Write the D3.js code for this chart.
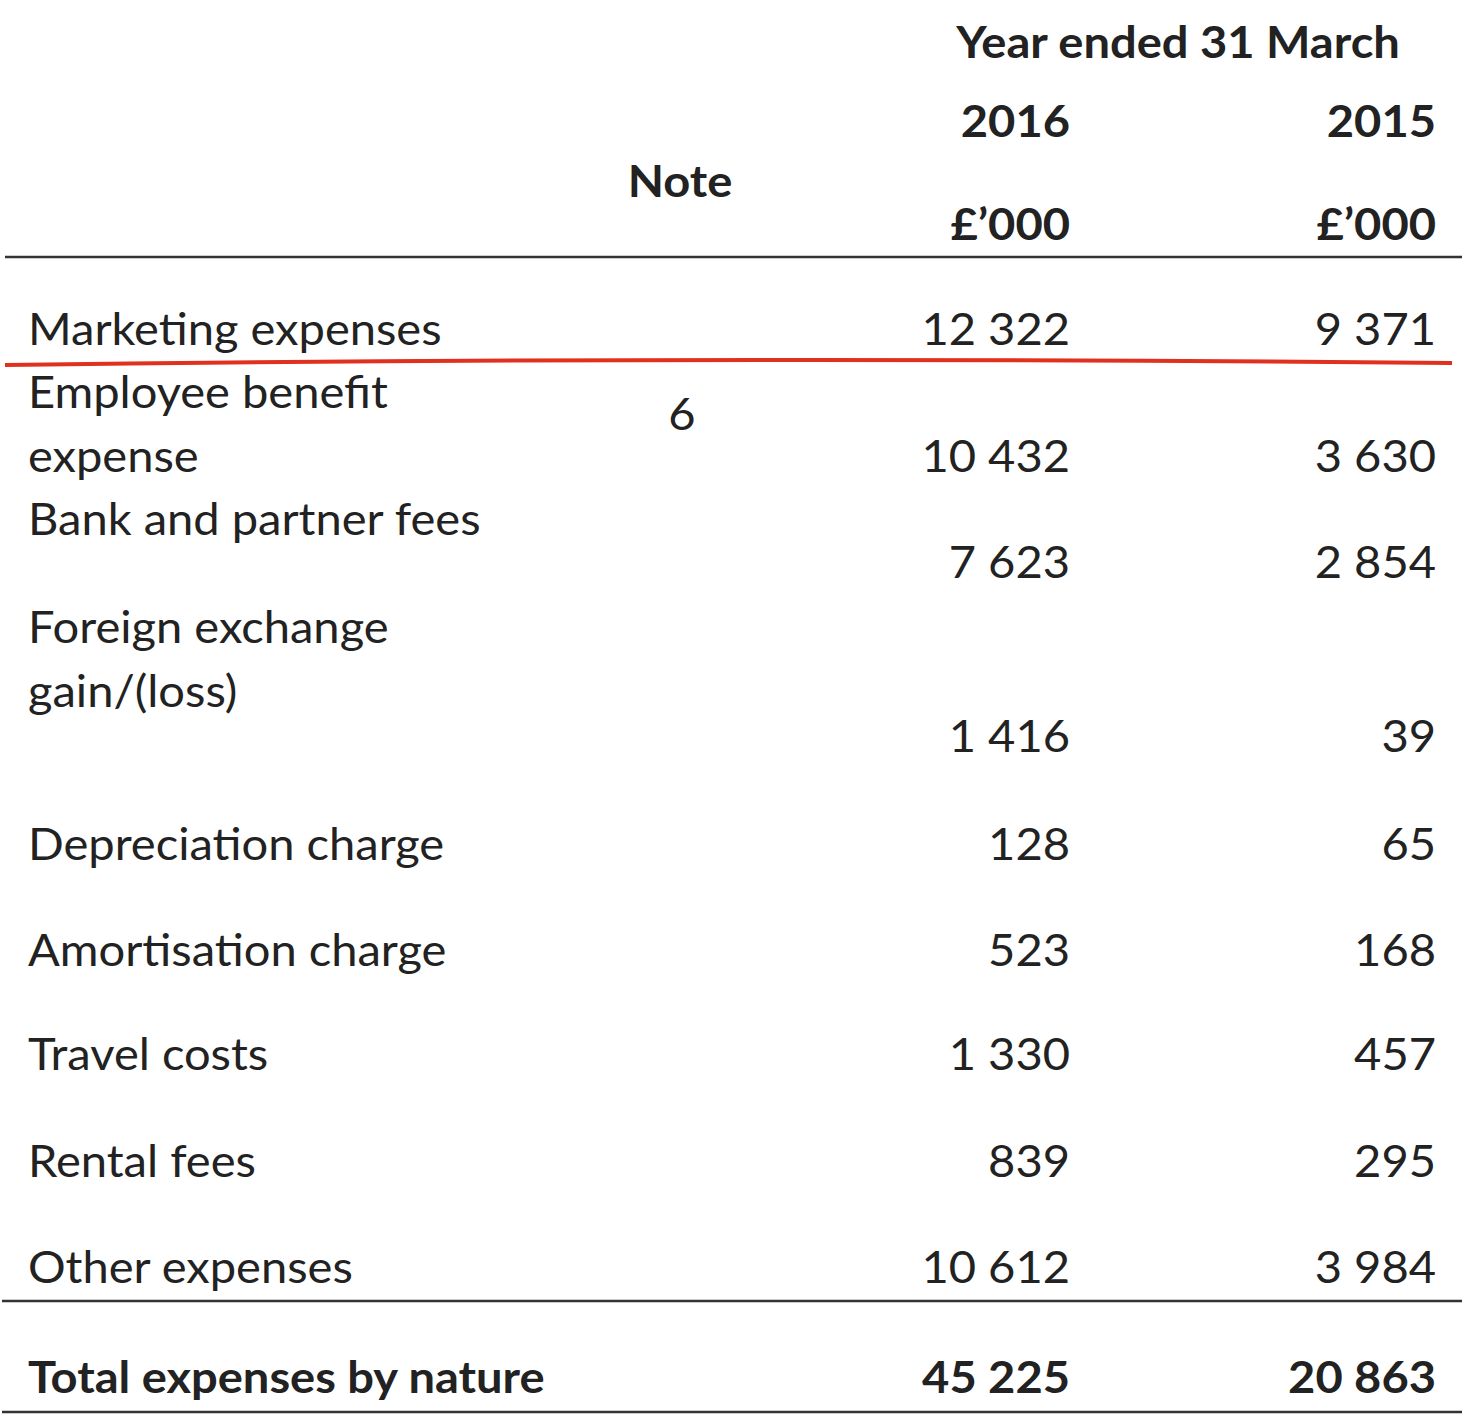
<!DOCTYPE html>
<html><head><meta charset="utf-8">
<script src="https://cdn.jsdelivr.net/npm/d3@7"></script>
<style>body{margin:0;background:#fff}text{font-family:Lato,"Open Sans",sans-serif;fill:#222}</style>
</head><body><div id="chart"></div>
<script>
// table content
var labels = [["Marketing expenses"], ["Employee benefit", "expense"], ["Bank and partner fees"],
  ["Foreign exchange", "gain/(loss)"], ["Depreciation charge"], ["Amortisation charge"],
  ["Travel costs"], ["Rental fees"], ["Other expenses"]];
var notes = ["", "6", "", "", "", "", "", "", ""];
var values2016 = ["12 322", "10 432", "7 623", "1 416", "128", "523", "1 330", "839", "10 612"];
var values2015 = ["9 371", "3 630", "2 854", "39", "65", "168", "457", "295", "3 984"];
var totalLabel = "Total expenses by nature", total2016 = "45 225", total2015 = "20 863";
var years = ["2016", "2015"];

// layout (label baseline, value baseline per row)
var labelY = [345, 408, 535, 643, 860, 966, 1070, 1177, 1283];
var valueY = [345, 472, 578, 752, 860, 966, 1070, 1177, 1283];
var lineGap = 64;

var svg = d3.select("#chart").append("svg").attr("width", 1483).attr("height", 1422);
var x = d3.scaleOrdinal().domain(["label", "note", "2016", "2015"]).range([28, 680, 1070, 1436]);
var fs = "44px";
var stretch = 1.07;

function txt(g, xx, yy, s, anchor, bold) {
  var t = g.append("text").attr("transform", "translate(" + xx + "," + yy + ") scale(" + stretch + ",1)")
    .attr("text-anchor", anchor || "start").style("font-size", fs).text(s);
  if (bold) t.style("font-weight", "bold");
  return t;
}

txt(svg, 1178, 58, "Year ended 31 March", "middle", true);
years.forEach(function(yr) {
  txt(svg, x(yr), 137, yr, "end", true);
  txt(svg, x(yr), 240, "£’000", "end", true);
});
txt(svg, x("note"), 197, "Note", "middle", true);

svg.append("line").attr("x1", 5).attr("x2", 1462).attr("y1", 257).attr("y2", 257).attr("stroke", "#333").attr("stroke-width", 2.5);

var rows = svg.append("g").selectAll("g").data(labels).enter().append("g");
rows.each(function(d, i) {
  var g = d3.select(this);
  d.forEach(function(line, j) { txt(g, x("label"), labelY[i] + j * lineGap, line); });
  txt(g, x("2016"), valueY[i], values2016[i], "end");
  txt(g, x("2015"), valueY[i], values2015[i], "end");
  if (notes[i]) txt(g, x("note") + 2, 430, notes[i], "middle");
});

// red underline
svg.append("path").attr("d", "M5,365 Q700,356 1452,363").attr("fill", "none").attr("stroke", "#e0301e").attr("stroke-width", 4);

svg.append("line").attr("x1", 2).attr("x2", 1462).attr("y1", 1301).attr("y2", 1301).attr("stroke", "#333").attr("stroke-width", 2.5);
txt(svg, x("label"), 1393, totalLabel, "start", true);
txt(svg, x("2016"), 1393, total2016, "end", true);
txt(svg, x("2015"), 1393, total2015, "end", true);
svg.append("line").attr("x1", 2).attr("x2", 1462).attr("y1", 1412).attr("y2", 1412).attr("stroke", "#333").attr("stroke-width", 2.5);
</script></body></html>
